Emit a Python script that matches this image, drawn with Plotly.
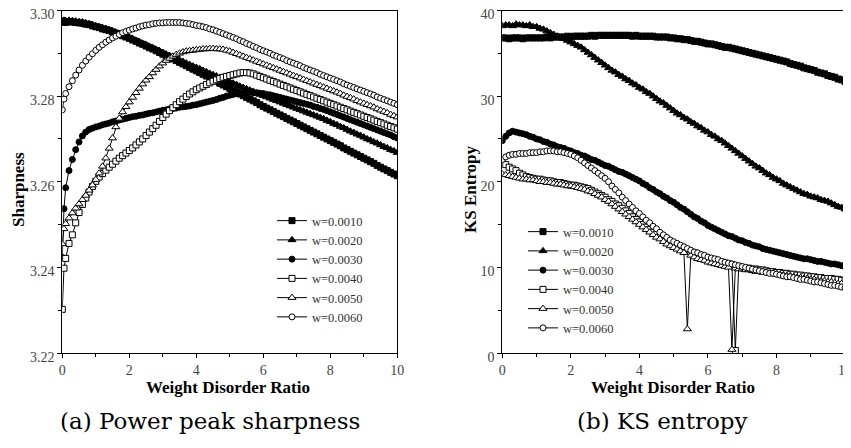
import plotly.graph_objects as go

# x positions (weight disorder ratio)
X_LEFT = [0, 0.05] + [round(0.1 * i, 1) for i in range(1, 101)]
X_RIGHT = [round(0.1 * i, 1) for i in range(101)]

LABELS = ["w=0.0010", "w=0.0020", "w=0.0030", "w=0.0040", "w=0.0050", "w=0.0060"]

# (a) sharpness
sharp_0010 = [3.2973, 3.2974,
    3.2972, 3.2974, 3.2973, 3.2972, 3.2971, 3.2970, 3.2968, 3.2967, 3.2964, 3.2962,
    3.2960, 3.2957, 3.2955, 3.2953, 3.2950, 3.2947, 3.2944, 3.2941, 3.2938, 3.2935,
    3.2931, 3.2928, 3.2924, 3.2921, 3.2917, 3.2913, 3.2910, 3.2906, 3.2902, 3.2898,
    3.2894, 3.2891, 3.2887, 3.2883, 3.2879, 3.2875, 3.2871, 3.2867, 3.2863, 3.2859,
    3.2855, 3.2851, 3.2847, 3.2843, 3.2839, 3.2835, 3.2830, 3.2826, 3.2822, 3.2818,
    3.2814, 3.2810, 3.2805, 3.2801, 3.2797, 3.2793, 3.2789, 3.2785, 3.2780, 3.2776,
    3.2772, 3.2768, 3.2764, 3.2760, 3.2756, 3.2752, 3.2748, 3.2744, 3.2740, 3.2736,
    3.2732, 3.2728, 3.2724, 3.2720, 3.2716, 3.2712, 3.2708, 3.2704, 3.2700, 3.2696,
    3.2692, 3.2688, 3.2684, 3.2679, 3.2675, 3.2671, 3.2667, 3.2663, 3.2659, 3.2655,
    3.2651, 3.2647, 3.2643, 3.2638, 3.2634, 3.2630, 3.2626, 3.2622, 3.2618, 3.2614]
sharp_0020 = [3.2976, 3.2977,
    3.2976, 3.2977, 3.2976, 3.2975, 3.2974, 3.2973, 3.2971, 3.2969, 3.2967, 3.2964,
    3.2962, 3.2960, 3.2958, 3.2955, 3.2952, 3.2949, 3.2946, 3.2943, 3.2940, 3.2937,
    3.2934, 3.2930, 3.2927, 3.2923, 3.2920, 3.2916, 3.2913, 3.2909, 3.2906, 3.2902,
    3.2898, 3.2895, 3.2891, 3.2888, 3.2884, 3.2881, 3.2877, 3.2874, 3.2870, 3.2867,
    3.2864, 3.2860, 3.2857, 3.2853, 3.2850, 3.2847, 3.2843, 3.2840, 3.2836, 3.2833,
    3.2830, 3.2827, 3.2823, 3.2820, 3.2817, 3.2814, 3.2811, 3.2807, 3.2804, 3.2801,
    3.2798, 3.2795, 3.2792, 3.2789, 3.2786, 3.2783, 3.2780, 3.2777, 3.2774, 3.2771,
    3.2768, 3.2765, 3.2762, 3.2759, 3.2756, 3.2753, 3.2750, 3.2747, 3.2743, 3.2740,
    3.2736, 3.2733, 3.2729, 3.2726, 3.2722, 3.2718, 3.2715, 3.2711, 3.2708, 3.2704,
    3.2700, 3.2697, 3.2693, 3.2690, 3.2686, 3.2682, 3.2679, 3.2675, 3.2672, 3.2668]
sharp_0030 = [3.2423, 3.2537,
    3.2586, 3.2626, 3.2652, 3.2675, 3.2693, 3.2707, 3.2716, 3.2722, 3.2725, 3.2728,
    3.2730, 3.2733, 3.2735, 3.2737, 3.2740, 3.2742, 3.2744, 3.2746, 3.2748, 3.2750,
    3.2752, 3.2753, 3.2755, 3.2756, 3.2758, 3.2760, 3.2761, 3.2763, 3.2765, 3.2767,
    3.2768, 3.2770, 3.2771, 3.2772, 3.2774, 3.2775, 3.2776, 3.2777, 3.2779, 3.2780,
    3.2782, 3.2784, 3.2786, 3.2788, 3.2790, 3.2792, 3.2795, 3.2797, 3.2800, 3.2802,
    3.2804, 3.2806, 3.2807, 3.2808, 3.2808, 3.2809, 3.2808, 3.2808, 3.2807, 3.2806,
    3.2804, 3.2803, 3.2801, 3.2799, 3.2797, 3.2795, 3.2793, 3.2791, 3.2789, 3.2787,
    3.2785, 3.2783, 3.2781, 3.2779, 3.2776, 3.2774, 3.2771, 3.2769, 3.2766, 3.2763,
    3.2760, 3.2757, 3.2754, 3.2751, 3.2748, 3.2745, 3.2742, 3.2739, 3.2736, 3.2733,
    3.2730, 3.2727, 3.2724, 3.2721, 3.2718, 3.2715, 3.2712, 3.2709, 3.2705, 3.2702]
sharp_0040 = [3.2302, 3.2398,
    3.2421, 3.2456, 3.2476, 3.2504, 3.2528, 3.2547, 3.2562, 3.2576, 3.2589, 3.2601,
    3.2611, 3.2619, 3.2627, 3.2634, 3.2641, 3.2648, 3.2655, 3.2661, 3.2667, 3.2673,
    3.2679, 3.2686, 3.2693, 3.2700, 3.2708, 3.2716, 3.2724, 3.2732, 3.2741, 3.2750,
    3.2758, 3.2766, 3.2773, 3.2780, 3.2787, 3.2793, 3.2799, 3.2805, 3.2810, 3.2815,
    3.2819, 3.2823, 3.2827, 3.2831, 3.2835, 3.2838, 3.2841, 3.2844, 3.2846, 3.2848,
    3.2850, 3.2852, 3.2854, 3.2855, 3.2855, 3.2854, 3.2852, 3.2849, 3.2846, 3.2843,
    3.2840, 3.2837, 3.2834, 3.2831, 3.2828, 3.2825, 3.2822, 3.2819, 3.2816, 3.2813,
    3.2810, 3.2807, 3.2804, 3.2801, 3.2798, 3.2795, 3.2792, 3.2789, 3.2786, 3.2783,
    3.2780, 3.2777, 3.2774, 3.2771, 3.2768, 3.2765, 3.2762, 3.2759, 3.2756, 3.2753,
    3.2750, 3.2747, 3.2744, 3.2741, 3.2738, 3.2735, 3.2732, 3.2729, 3.2726, 3.2723]
sharp_0050 = [3.2455, 3.2490,
    3.2502, 3.2515, 3.2527, 3.2538, 3.2548, 3.2558, 3.2568, 3.2580, 3.2592, 3.2605,
    3.2620, 3.2636, 3.2655, 3.2678, 3.2702, 3.2728, 3.2748, 3.2763, 3.2775, 3.2786,
    3.2797, 3.2808, 3.2818, 3.2828, 3.2837, 3.2845, 3.2854, 3.2862, 3.2870, 3.2877,
    3.2883, 3.2888, 3.2893, 3.2897, 3.2900, 3.2903, 3.2905, 3.2906, 3.2907, 3.2908,
    3.2909, 3.2910, 3.2910, 3.2911, 3.2911, 3.2910, 3.2910, 3.2909, 3.2907, 3.2905,
    3.2902, 3.2899, 3.2896, 3.2893, 3.2890, 3.2887, 3.2884, 3.2881, 3.2878, 3.2875,
    3.2872, 3.2869, 3.2866, 3.2863, 3.2860, 3.2857, 3.2854, 3.2851, 3.2848, 3.2845,
    3.2842, 3.2839, 3.2836, 3.2833, 3.2830, 3.2827, 3.2824, 3.2821, 3.2818, 3.2815,
    3.2812, 3.2809, 3.2806, 3.2802, 3.2799, 3.2796, 3.2793, 3.2789, 3.2786, 3.2783,
    3.2780, 3.2777, 3.2774, 3.2770, 3.2767, 3.2764, 3.2761, 3.2757, 3.2754, 3.2751]
sharp_0060 = [3.2768, 3.2793,
    3.2806, 3.2822, 3.2836, 3.2849, 3.2861, 3.2872, 3.2882, 3.2891, 3.2899, 3.2907,
    3.2914, 3.2920, 3.2926, 3.2931, 3.2936, 3.2940, 3.2944, 3.2948, 3.2951, 3.2954,
    3.2957, 3.2959, 3.2962, 3.2964, 3.2966, 3.2967, 3.2969, 3.2970, 3.2971, 3.2971,
    3.2972, 3.2972, 3.2972, 3.2972, 3.2972, 3.2971, 3.2970, 3.2969, 3.2967, 3.2965,
    3.2964, 3.2962, 3.2960, 3.2957, 3.2955, 3.2952, 3.2949, 3.2946, 3.2943, 3.2940,
    3.2937, 3.2934, 3.2930, 3.2927, 3.2923, 3.2920, 3.2916, 3.2913, 3.2909, 3.2906,
    3.2903, 3.2900, 3.2896, 3.2893, 3.2890, 3.2887, 3.2883, 3.2880, 3.2877, 3.2874,
    3.2871, 3.2867, 3.2864, 3.2861, 3.2858, 3.2855, 3.2851, 3.2848, 3.2845, 3.2842,
    3.2839, 3.2836, 3.2833, 3.2829, 3.2826, 3.2823, 3.2820, 3.2817, 3.2814, 3.2811,
    3.2808, 3.2805, 3.2802, 3.2798, 3.2795, 3.2792, 3.2789, 3.2786, 3.2783, 3.2780]

# (b) KS entropy
ks_0010 = [36.8, 36.8, 36.7, 36.8, 36.8, 36.8, 36.7, 36.8, 36.8, 36.8,
    36.8, 36.8, 36.8, 36.9, 36.8, 36.9, 36.9, 36.9, 36.9, 37.0,
    36.9, 37.0, 37.0, 37.0, 37.0, 37.0, 37.1, 37.0, 37.1, 37.1,
    37.1, 37.1, 37.1, 37.1, 37.1, 37.1, 37.1, 37.1, 37.0, 37.1,
    37.0, 37.0, 37.0, 37.0, 37.0, 36.9, 36.9, 36.9, 36.9, 36.8,
    36.8, 36.7, 36.7, 36.6, 36.6, 36.5, 36.4, 36.4, 36.3, 36.2,
    36.1, 36.1, 36.0, 35.9, 35.8, 35.7, 35.7, 35.6, 35.5, 35.4,
    35.3, 35.2, 35.1, 35.0, 34.9, 34.8, 34.7, 34.6, 34.5, 34.4,
    34.3, 34.2, 34.1, 34.0, 33.8, 33.7, 33.6, 33.5, 33.3, 33.2,
    33.1, 33.0, 32.8, 32.7, 32.6, 32.4, 32.3, 32.2, 32.0, 31.9,
    31.7]
ks_0020 = [38.2, 38.3, 38.3, 38.2, 38.4, 38.3, 38.3, 38.2, 38.3, 38.1,
    38.1, 37.9, 37.8, 37.6, 37.4, 37.2, 37.0, 36.8, 36.7, 36.5,
    36.3, 36.1, 35.9, 35.7, 35.4, 35.1, 34.8, 34.5, 34.2, 33.9,
    33.6, 33.3, 33.0, 32.8, 32.5, 32.3, 32.0, 31.8, 31.5, 31.3,
    31.0, 30.8, 30.5, 30.3, 30.0, 29.7, 29.4, 29.2, 28.9, 28.6,
    28.3, 28.0, 27.8, 27.5, 27.3, 27.0, 26.8, 26.5, 26.3, 26.0,
    25.8, 25.5, 25.3, 25.0, 24.8, 24.5, 24.2, 23.9, 23.6, 23.3,
    23.0, 22.7, 22.4, 22.1, 21.8, 21.6, 21.3, 21.0, 20.8, 20.5,
    20.3, 20.1, 19.8, 19.6, 19.4, 19.2, 19.0, 18.8, 18.6, 18.5,
    18.3, 18.2, 18.1, 17.9, 17.8, 17.7, 17.5, 17.3, 17.1, 17.0,
    16.8]
ks_0030 = [24.8, 25.3, 25.7, 25.9, 25.8, 25.7, 25.6, 25.5, 25.3, 25.2,
    25.0, 24.9, 24.7, 24.6, 24.4, 24.3, 24.1, 24.0, 23.9, 23.7,
    23.6, 23.4, 23.3, 23.1, 23.0, 22.8, 22.6, 22.5, 22.3, 22.1,
    21.9, 21.8, 21.6, 21.4, 21.2, 21.1, 20.9, 20.7, 20.5, 20.3,
    20.1, 19.8, 19.6, 19.3, 19.1, 18.8, 18.6, 18.3, 18.1, 17.8,
    17.6, 17.3, 17.0, 16.8, 16.5, 16.2, 15.9, 15.7, 15.4, 15.2,
    14.9, 14.7, 14.5, 14.3, 14.1, 13.9, 13.7, 13.6, 13.4, 13.2,
    13.1, 12.9, 12.8, 12.6, 12.5, 12.4, 12.2, 12.1, 12.0, 11.9,
    11.8, 11.7, 11.6, 11.5, 11.4, 11.3, 11.2, 11.1, 11.0, 11.0,
    10.9, 10.8, 10.7, 10.7, 10.6, 10.5, 10.4, 10.4, 10.3, 10.2,
    10.1]
ks_0040 = [22.1, 22.0, 21.7, 21.5, 21.3, 21.0, 20.8, 20.6, 20.5, 20.4,
    20.3, 20.3, 20.2, 20.1, 20.1, 20.0, 19.9, 19.9, 19.8, 19.7,
    19.6, 19.6, 19.5, 19.4, 19.3, 19.2, 19.0, 18.8, 18.6, 18.4,
    18.2, 17.9, 17.7, 17.4, 17.2, 16.9, 16.6, 16.3, 15.9, 15.6,
    15.3, 15.0, 14.7, 14.4, 14.1, 13.9, 13.6, 13.4, 13.1, 12.9,
    12.7, 12.5, 12.3, 12.1, 12.0, 11.8, 11.7, 11.5, 11.4, 11.2,
    11.0, 10.9, 10.8, 10.7, 10.6, 10.5, 10.4, 10.3, 0.3, 10.1,
    10.0, 9.9, 9.9, 9.8, 9.8, 9.7, 9.7, 9.6, 9.5, 9.5,
    9.4, 9.4, 9.3, 9.3, 9.2, 9.2, 9.1, 9.1, 9.0, 9.0,
    8.9, 8.9, 8.8, 8.8, 8.7, 8.7, 8.7, 8.6, 8.6, 8.5,
    8.5]
ks_0050 = [20.9, 20.8, 20.7, 20.6, 20.5, 20.4, 20.3, 20.3, 20.2, 20.2,
    20.1, 20.0, 20.0, 19.9, 19.9, 19.8, 19.7, 19.7, 19.6, 19.5,
    19.5, 19.4, 19.3, 19.2, 19.1, 18.9, 18.8, 18.6, 18.4, 18.2,
    17.9, 17.7, 17.4, 17.1, 16.8, 16.5, 16.2, 15.9, 15.6, 15.3,
    15.0, 14.7, 14.4, 14.1, 13.8, 13.5, 13.3, 13.0, 12.7, 12.5,
    12.3, 12.1, 11.9, 11.7, 2.8, 11.4, 11.2, 11.0, 10.9, 10.8,
    10.6, 10.5, 10.4, 10.3, 10.2, 10.1, 10.0, 0.4, 9.9, 9.8,
    9.8, 9.7, 9.7, 9.6, 9.5, 9.5, 9.4, 9.4, 9.3, 9.3,
    9.2, 9.1, 9.1, 9.0, 9.0, 8.9, 8.8, 8.8, 8.7, 8.7,
    8.6, 8.6, 8.5, 8.4, 8.4, 8.3, 8.3, 8.2, 8.1, 8.1,
    8.0]
ks_0060 = [22.6, 22.9, 23.1, 23.2, 23.2, 23.3, 23.3, 23.3, 23.4, 23.4,
    23.4, 23.5, 23.5, 23.6, 23.6, 23.6, 23.5, 23.5, 23.4, 23.3,
    23.2, 23.0, 22.8, 22.5, 22.2, 21.9, 21.6, 21.3, 21.0, 20.7,
    20.4, 20.0, 19.5, 19.1, 18.7, 18.2, 17.8, 17.4, 17.0, 16.6,
    16.3, 15.9, 15.5, 15.2, 14.8, 14.5, 14.1, 13.8, 13.5, 13.2,
    13.0, 12.8, 12.6, 12.4, 12.2, 12.0, 11.8, 11.7, 11.5, 11.4,
    11.2, 11.1, 11.0, 10.9, 10.7, 10.6, 10.5, 10.4, 10.3, 10.2,
    10.1, 10.0, 9.9, 9.8, 9.7, 9.6, 9.5, 9.4, 9.3, 9.3,
    9.2, 9.1, 9.0, 8.9, 8.9, 8.8, 8.7, 8.6, 8.6, 8.5,
    8.4, 8.3, 8.3, 8.2, 8.1, 8.0, 7.9, 7.9, 7.8, 7.7,
    7.6]

SHARP = [sharp_0010, sharp_0020, sharp_0030, sharp_0040, sharp_0050, sharp_0060]
KS = [ks_0010, ks_0020, ks_0030, ks_0040, ks_0050, ks_0060]

# marker styles: filled square/triangle/circle, then open ones
SYMBOLS = ["square", "triangle-up", "circle", "square", "triangle-up", "circle"]
FILLS = ["black", "black", "black", "white", "white", "white"]
SIZES = [6, 7, 6, 6, 7, 6]

SERIF = "Liberation Serif"

# the page body adds an 8px margin, so the figure is a bit smaller than the window
W, H = 843, 440


def px(x):
    return (x - 8) / W


def py(y):
    return 1 - (y - 8) / H


fig = go.Figure()

for i in range(6):
    fig.add_trace(go.Scatter(
        x=X_LEFT, y=SHARP[i], name=LABELS[i], mode="lines+markers",
        line=dict(color="black", width=1),
        marker=dict(symbol=SYMBOLS[i], size=SIZES[i], color=FILLS[i],
                    line=dict(color="black", width=1)),
        xaxis="x", yaxis="y", legend="legend"))

for i in range(6):
    fig.add_trace(go.Scatter(
        x=X_RIGHT, y=KS[i], name=LABELS[i], mode="lines+markers",
        line=dict(color="black", width=1),
        marker=dict(symbol=SYMBOLS[i], size=SIZES[i], color=FILLS[i],
                    line=dict(color="black", width=1)),
        xaxis="x2", yaxis="y2", legend="legend2"))

tickfont = dict(family=SERIF, size=14, color="#444")
titlefont = dict(family=SERIF, size=17, color="black", weight="bold")
legendfont = dict(family=SERIF, size=12.5, color="#333")
capfont = dict(family="DejaVu Serif", size=23, color="black")


def xax(domain, anchor):
    return dict(domain=domain, anchor=anchor, range=[0, 10], dtick=2, tick0=0,
                ticks="outside", ticklen=4, tickcolor="black",
                minor=dict(dtick=1, ticks="outside", ticklen=3, tickcolor="black"),
                showline=True, linecolor="black", linewidth=1, mirror=True,
                showgrid=False, zeroline=False, tickfont=tickfont,
                automargin=False, ticklabeloverflow="allow")


def yax(domain, anchor, rng, dtick, minor, fmt):
    # labels sit a little below their ticks, as in the original figure
    return dict(domain=domain, anchor=anchor, range=rng, dtick=dtick, tickformat=fmt,
                ticks="outside", ticklen=4, tickcolor="black", ticklabelshift=4,
                minor=dict(dtick=minor, ticks="outside", ticklen=3, tickcolor="black"),
                showline=True, linecolor="black", linewidth=1, mirror=True,
                showgrid=False, zeroline=False, tickfont=tickfont,
                automargin=False, ticklabeloverflow="allow")


def note(text, x, y, font, angle=0):
    return dict(text=text, x=x, y=y, xref="paper", yref="paper", showarrow=False,
                xanchor="center", yanchor="middle", textangle=angle, font=font)


ydom = [py(353), py(10.5)]

fig.update_layout(
    width=W, height=H,
    margin=dict(l=0, r=0, t=0, b=0),
    paper_bgcolor="white", plot_bgcolor="white",
    xaxis=xax([px(62.3), px(397.3)], "y"),
    xaxis2=xax([px(502.3), px(845)], "y2"),
    yaxis=yax(ydom, "x", [3.22, 3.30], 0.02, 0.01, ".2f"),
    yaxis2=yax(ydom, "x2", [0, 40], 10, 5, "d"),
    legend=dict(x=px(272), y=py(206), xanchor="left", yanchor="top",
                bgcolor="rgba(0,0,0,0)", font=legendfont, tracegroupgap=0),
    legend2=dict(x=px(523), y=py(217), xanchor="left", yanchor="top",
                 bgcolor="rgba(0,0,0,0)", font=legendfont, tracegroupgap=0),
    annotations=[
        note("<b>Weight Disorder Ratio</b>", px(228), py(387), titlefont),
        note("<b>Weight Disorder Ratio</b>", px(673), py(387), titlefont),
        note("<b>Sharpness</b>", px(19), py(190), titlefont, -90),
        note("<b>KS Entropy</b>", px(470), py(189), titlefont, -90),
        note("(a) Power peak sharpness", px(210), py(421), capfont),
        note("(b) KS entropy", px(662), py(421), capfont),
    ],
)

fig.write_html("out.html")
